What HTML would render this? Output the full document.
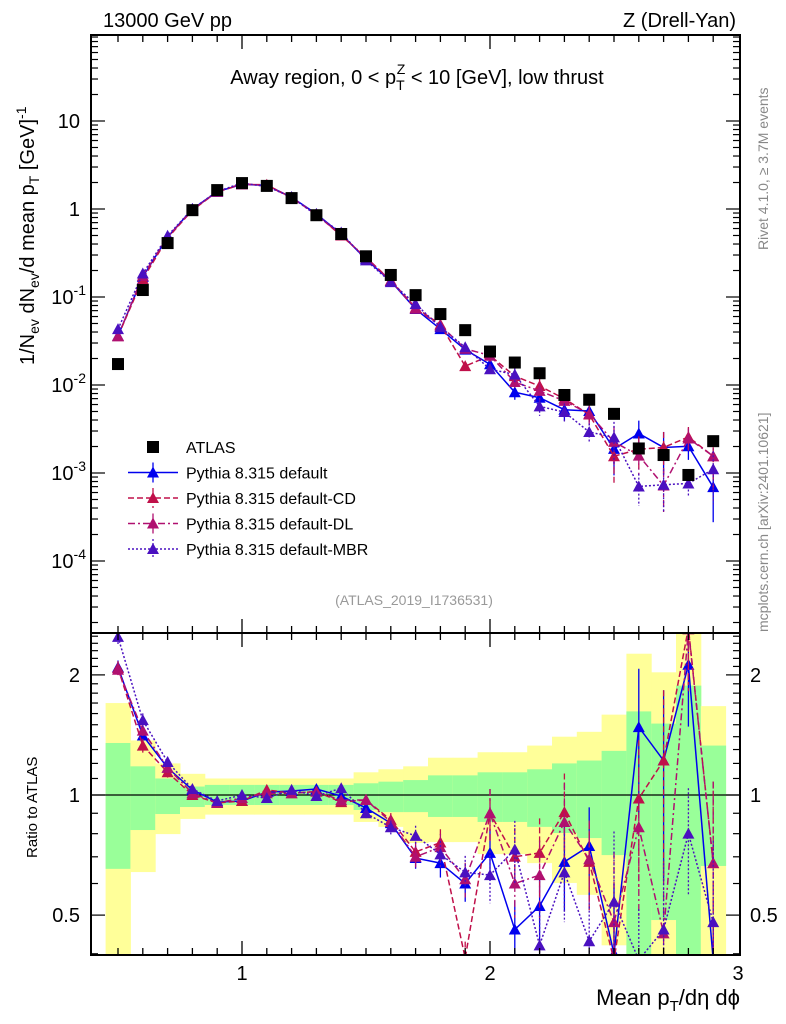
<!DOCTYPE html>
<html><head><meta charset="utf-8"><style>
html,body{margin:0;background:#fff;overflow:hidden;width:786px;height:1024px;}
svg{display:block;font-family:"Liberation Sans",sans-serif;}
</style></head><body>
<svg id="c" width="786" height="1024" viewBox="0 0 786 1024">
<defs>
<clipPath id="cm"><rect x="91" y="35" width="649" height="598"/></clipPath>
<clipPath id="cr"><rect x="91" y="633" width="649" height="322"/></clipPath>
</defs>
<text x="103" y="27" font-size="20">13000 GeV pp</text>
<text x="736" y="27" font-size="20" text-anchor="end">Z (Drell-Yan)</text>
<text x="417" y="84" font-size="20" text-anchor="middle">Away region, 0 &lt; p<tspan font-size="14" dy="6">T</tspan><tspan font-size="14" dx="-8" dy="-16">Z</tspan><tspan dy="10"> &lt; 10 [GeV], low thrust</tspan></text>
<text transform="translate(768,250) rotate(-90)" font-size="14" fill="#888">Rivet 4.1.0, ≥ 3.7M events</text>
<text transform="translate(768,632) rotate(-90)" font-size="14" fill="#888">mcplots.cern.ch [arXiv:2401.10621]</text>
<text transform="translate(34,365) rotate(-90)" font-size="20">1/N<tspan font-size="14" dy="5">ev</tspan><tspan dy="-5"> dN</tspan><tspan font-size="14" dy="5">ev</tspan><tspan dy="-5">/d mean p</tspan><tspan font-size="14" dy="5">T</tspan><tspan dy="-5"> [GeV]</tspan><tspan font-size="14" dy="-8">-1</tspan></text>
<text transform="translate(37,858) rotate(-90)" font-size="15">Ratio to ATLAS</text>
<text x="740" y="1005" font-size="22" text-anchor="end">Mean p<tspan font-size="15" dy="6">T</tspan><tspan dy="-6">/dη dϕ</tspan></text>
<text x="414" y="605" font-size="14" fill="#999" text-anchor="middle">(ATLAS_2019_I1736531)</text>
<g id="gr" clip-path="url(#cr)"></g>
<g id="gm" clip-path="url(#cm)"></g>
<g id="ax"></g>
<g id="lg"></g>
</svg>
<script>
const xs=[0.5,0.6,0.7,0.8,0.9,1.0,1.1,1.2,1.3,1.4,1.5,1.6,1.7,1.8,1.9,2.0,2.1,2.2,2.3,2.4,2.5,2.6,2.7,2.8,2.9];
const atlas=[0.0173,0.12,0.41,0.97,1.64,1.97,1.83,1.33,0.85,0.52,0.29,0.178,0.105,0.064,0.042,0.024,0.018,0.0136,0.0077,0.0068,0.0047,0.0019,0.0016,0.00095,0.0023];
const rDefault=[2.09,1.41,1.17,1.03,0.96,0.966,1.017,1.023,1.035,0.994,0.928,0.85,0.695,0.675,0.60,0.716,0.46,0.527,0.68,0.745,0.40,1.48,1.22,2.12,0.3];
const rCD=[2.08,1.33,1.14,1.0,0.955,0.966,1.03,1.01,1.02,0.96,0.972,0.866,0.72,0.76,0.39,0.90,0.70,0.716,0.906,0.68,0.33,0.98,1.22,2.7,0.675];
const rDL=[2.06,1.45,1.17,1.01,0.955,0.983,1.01,1.01,1.02,0.97,0.972,0.856,0.70,0.74,0.615,0.90,0.60,0.63,0.856,0.69,0.48,0.83,0.45,2.6,0.675];
const rMBR=[2.49,1.54,1.21,1.035,0.966,1.0,0.983,1.03,0.994,1.04,0.90,0.83,0.79,0.71,0.64,0.63,0.73,0.42,0.64,0.43,0.54,0.37,0.46,0.80,0.48];
const relErr=[0.04,0.04,0.03,0.02,0.02,0.02,0.02,0.02,0.02,0.02,0.03,0.04,0.06,0.08,0.1,0.15,0.18,0.22,0.25,0.25,0.5,0.4,0.5,0.3,0.6];
const bandYTop=[1.70,1.37,1.20,1.13,1.10,1.10,1.10,1.10,1.10,1.10,1.14,1.16,1.18,1.24,1.24,1.28,1.28,1.33,1.40,1.44,1.59,2.26,2.03,2.6,1.67];
const bandGTop=[1.35,1.18,1.10,1.05,1.06,1.06,1.06,1.06,1.06,1.06,1.07,1.08,1.09,1.12,1.12,1.14,1.14,1.16,1.20,1.22,1.29,1.62,1.51,1.88,1.33];
const bandGBot=[0.653,0.817,0.896,0.933,0.944,0.944,0.944,0.944,0.944,0.944,0.917,0.906,0.906,0.881,0.881,0.856,0.856,0.832,0.803,0.78,0.707,0.3,0.486,0.3,0.664];
const bandYBot=[0.3,0.641,0.798,0.871,0.893,0.893,0.893,0.893,0.893,0.893,0.856,0.832,0.758,0.762,0.762,0.711,0.711,0.675,0.602,0.562,0.42,0.3,0.3,0.3,0.3];
const xTicks=[1,2,3];
const NS='http://www.w3.org/2000/svg';
const X=v=>242+248*(v-1);
const YM=v=>Math.min(640,Math.max(30,209-88*Math.log10(v)));
const YR=r=>Math.min(960,Math.max(628,795-399*Math.log10(r)));
function mk(p,tag,a){const e=document.createElementNS(NS,tag);for(const k in a)e.setAttribute(k,a[k]);p.appendChild(e);return e;}
const gm=document.getElementById('gm'),gr=document.getElementById('gr'),ax=document.getElementById('ax'),lg=document.getElementById('lg');
xs.forEach((x,i)=>{
 let r=mk(gr,'rect',{x:X(x-0.05),y:YR(bandYTop[i]),width:X(x+0.05)-X(x-0.05)+0.5,height:YR(bandYBot[i])-YR(bandYTop[i]),fill:'#ffff99'});
 
 
 let g=mk(gr,'rect',{x:X(x-0.05),y:YR(bandGTop[i]),width:X(x+0.05)-X(x-0.05)+0.5,height:YR(bandGBot[i])-YR(bandGTop[i]),fill:'#99ff99'});
 
 
});
mk(gr,'line',{x1:91,x2:740,y1:YR(1),y2:YR(1),stroke:'#000','stroke-width':1.2});
const series=[
 {n:'pythia-default',r:rDefault,c:'#0000ee',d:''},
 {n:'pythia-default-cd',r:rCD,c:'#c0104a',d:'6,3'},
 {n:'pythia-default-dl',r:rDL,c:'#b01070',d:'7,3,2,3'},
 {n:'pythia-default-mbr',r:rMBR,c:'#4a10c0',d:'2,2'}];
function tri(p,x,y,c){return mk(p,'path',{d:`M${x-6},${y+5}L${x+6},${y+5}L${x},${y-6}Z`,fill:c});}
series.forEach(s=>{
 let pts=xs.map((x,i)=>X(x)+','+YR(s.r[i])).join(' ');
 let l=mk(gr,'polyline',{points:pts,fill:'none',stroke:s.c,'stroke-width':1.5,'stroke-dasharray':s.d});
 
 
 let m=xs.map((x,i)=>X(x)+','+YM(atlas[i]*s.r[i])).join(' ');
 let l2=mk(gm,'polyline',{points:m,fill:'none',stroke:s.c,'stroke-width':1.5,'stroke-dasharray':s.d});
 
 
 xs.forEach((x,i)=>{
  const r=s.r[i],e=relErr[i];
  mk(gr,'line',{x1:X(x),x2:X(x),y1:YR(r*(1+e)),y2:YR(Math.max(r*(1-e),0.3)),stroke:s.c,'stroke-width':1.3,'stroke-dasharray':s.d});
  const v=atlas[i]*r;
  mk(gm,'line',{x1:X(x),x2:X(x),y1:YM(v*(1+e)),y2:YM(Math.max(v*(1-e),1e-5)),stroke:s.c,'stroke-width':1.3,'stroke-dasharray':s.d});
  let t=tri(gr,X(x),YR(r),s.c);
  
  
  let t2=tri(gm,X(x),YM(v),s.c);
  
  
 });
});
xs.forEach((x,i)=>{
 let q=mk(gm,'rect',{x:X(x)-6,y:YM(atlas[i])-6,width:12,height:12,fill:'#000'});
 
 
});
mk(ax,'rect',{x:91,y:35,width:649,height:598,fill:'none',stroke:'#000','stroke-width':2});
mk(ax,'rect',{x:91,y:633,width:649,height:322,fill:'none',stroke:'#000','stroke-width':2});
for(let k=5;k<=29;k++){const v=k/10,maj=k%10==0,L=maj?14:7;const x=X(v);
 [[35,1],[633,-1],[633,1],[955,-1]].forEach(([y,d])=>mk(ax,'line',{x1:x,x2:x,y1:y,y2:y+d*L,stroke:'#000','stroke-width':1.3}));}
xTicks.forEach(v=>{let t=mk(ax,'text',{x:X(v),y:980,'font-size':20,'text-anchor':'middle'});t.textContent=v;
 
 });
for(let d=-5;d<=2;d++)for(let k=1;k<=9;k++){const v=k*Math.pow(10,d),y=209-88*Math.log10(v);if(y<36||y>632)continue;const L=k==1?14:7;
 mk(ax,'line',{x1:91,x2:91+L,y1:y,y2:y,stroke:'#000','stroke-width':1.2});mk(ax,'line',{x1:740,x2:740-L,y1:y,y2:y,stroke:'#000','stroke-width':1.2});}
[[1,'10',''],[0,'1',''],[-1,'10','-1'],[-2,'10','-2'],[-3,'10','-3'],[-4,'10','-4']].forEach(([d,b,s])=>{
 const y=209-88*d+7;let t=mk(ax,'text',{x:s?86:80,y:y,'font-size':20,'text-anchor':'end'});
 t.textContent=b;if(s){const sp=mk(t,'tspan',{'font-size':14,dy:-9});sp.textContent=s;}
 
 });
[0.4,0.5,0.6,0.7,0.8,0.9,1,1.1,1.2,1.3,1.4,1.5,1.6,1.7,1.8,1.9,2,2.1,2.2,2.3,2.4,2.5].forEach(r=>{const y=YR(r);const maj=(r==0.5||r==1||r==2);const L=maj?14:7;
 mk(ax,'line',{x1:91,x2:91+L,y1:y,y2:y,stroke:'#000','stroke-width':1.2});mk(ax,'line',{x1:740,x2:740-L,y1:y,y2:y,stroke:'#000','stroke-width':1.2});});
[[2,'2'],[1,'1'],[0.5,'0.5']].forEach(([r,s])=>{
 let t=mk(ax,'text',{x:80,y:YR(r)+7,'font-size':20,'text-anchor':'end'});t.textContent=s;
 
 
 let t2=mk(ax,'text',{x:750,y:YR(r)+7,'font-size':20});t2.textContent=s;
 
 });
const names=['ATLAS','Pythia 8.315 default','Pythia 8.315 default-CD','Pythia 8.315 default-DL','Pythia 8.315 default-MBR'];
names.forEach((n,i)=>{const y=447+25.5*i;
 if(i==0){mk(lg,'rect',{x:147,y:y-6,width:12,height:12,fill:'#000'});}
 else{const s=series[i-1];mk(lg,'line',{x1:128,x2:178,y1:y,y2:y,stroke:s.c,'stroke-width':1.5,'stroke-dasharray':s.d});
  mk(lg,'line',{x1:153,x2:153,y1:y-10,y2:y+10,stroke:s.c,'stroke-width':1.3,'stroke-dasharray':s.d});tri(lg,153,y,s.c);}
 let t=mk(lg,'text',{x:186,y:y+6,'font-size':16});t.textContent=n;
 
 });
</script>
</body></html>
